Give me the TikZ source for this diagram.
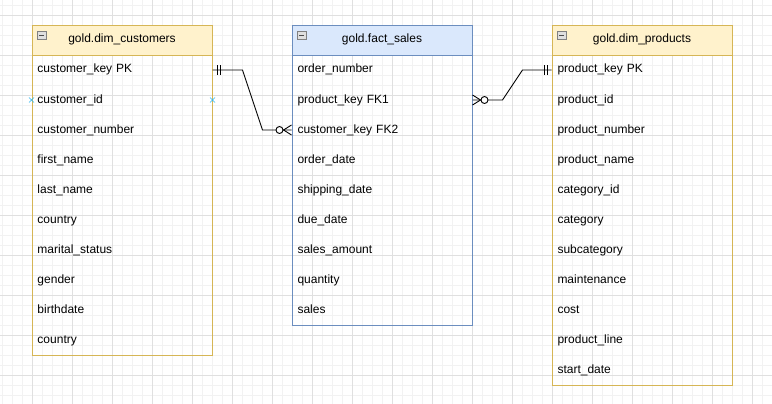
\documentclass[tikz,border=0pt]{standalone}
\usepackage{fontspec}
\setmainfont{Liberation Sans}
\usetikzlibrary{positioning}
\definecolor{dimline}{HTML}{D6B656}
\definecolor{dimfill}{HTML}{FFF2CC}
\definecolor{factline}{HTML}{6C8EBF}
\definecolor{factfill}{HTML}{DAE8FC}
\definecolor{gridminor}{HTML}{F2F2F2}
\definecolor{gridmajor}{HTML}{E0E0E0}
\definecolor{pointblue}{HTML}{29B6F2}
\tikzset{
	tablehead/.style={draw, minimum width=180pt, minimum height=30pt, inner sep=0pt, outer sep=0pt, anchor=north west, text height=9pt, text depth=3pt, font=\fontsize{12}{14}\selectfont},
	tablerow/.style={minimum width=180pt, minimum height=30pt, text width=169pt, inner xsep=6pt, inner ysep=0pt, outer sep=0pt, align=left, text height=9pt, text depth=3pt, font=\fontsize{12}{14}\selectfont},
	iconbox/.style={draw=gray, fill=gray!25, line width=0.6pt},
	relation/.style={draw=black, line width=0.9pt},
	hoverpoint/.style={draw=pointblue, line width=0.7pt}
}
\begin{document}
\begin{tikzpicture}[x=1pt,y=1pt]
	\useasboundingbox (0,0) rectangle (772,-404);
	\fill[white] (0,0) rectangle (772,-404);
	\begin{scope}[shift={(2,-5)}]
		\draw[gridminor, line width=0.6pt, step=10] (-2,-399) grid (770,5);
	\end{scope}
	\begin{scope}[shift={(32,-15)}]
		\draw[gridmajor, line width=0.6pt, step=40] (-32,-389) grid (740,15);
	\end{scope}

	% dim customers
	\node[tablehead, draw=dimline, fill=dimfill] (cust-0) at (32,-25) {gold.dim\_customers};
	\foreach \txt [count=\i] in {customer\_key PK, customer\_id, customer\_number, first\_name, last\_name, country, marital\_status, gender, birthdate, country}
	{
		\pgfmathtruncatemacro\prev{\i-1}
		\node[tablerow, below=0pt of cust-\prev] (cust-\i) {\txt};
	}
	\draw[dimline, line width=0.8pt] (cust-0.north west) rectangle (cust-10.south east);
	\draw[dimline, line width=0.8pt] (cust-0.south west) -- (cust-0.south east);

	% fact sales
	\node[tablehead, draw=factline, fill=factfill] (fact-0) at (292,-25) {gold.fact\_sales};
	\foreach \txt [count=\i] in {order\_number, product\_key FK1, customer\_key FK2, order\_date, shipping\_date, due\_date, sales\_amount, quantity, sales}
	{
		\pgfmathtruncatemacro\prev{\i-1}
		\node[tablerow, below=0pt of fact-\prev] (fact-\i) {\txt};
	}
	\draw[factline, line width=0.8pt] (fact-0.north west) rectangle (fact-9.south east);
	\draw[factline, line width=0.8pt] (fact-0.south west) -- (fact-0.south east);

	% dim products
	\node[tablehead, draw=dimline, fill=dimfill] (prod-0) at (552,-25) {gold.dim\_products};
	\foreach \txt [count=\i] in {product\_key PK, product\_id, product\_number, product\_name, category\_id, category, subcategory, maintenance, cost, product\_line, start\_date}
	{
		\pgfmathtruncatemacro\prev{\i-1}
		\node[tablerow, below=0pt of prod-\prev] (prod-\i) {\txt};
	}
	\draw[dimline, line width=0.8pt] (prod-0.north west) rectangle (prod-11.south east);
	\draw[dimline, line width=0.8pt] (prod-0.south west) -- (prod-0.south east);

	% collapse icons
	\foreach \t in {cust,fact,prod}
	{
		\draw[iconbox] ([shift={(5,-6)}]\t-0.north west) rectangle ++(9,-8);
		\draw[black!70, line width=0.7pt] ([shift={(7,-10)}]\t-0.north west) -- ++(5,0);
	}

	% customers -> sales
	\draw[relation] (cust-1.east) -- ++(30,0) -- ++(20,-60) -- (fact-3.west);
	\draw[relation] ([xshift=4.5pt]cust-1.east) ++(0,-5) -- ++(0,10);
	\draw[relation] ([xshift=8pt]cust-1.east) ++(0,-5) -- ++(0,10);
	\draw[relation] ([yshift=5pt]fact-3.west) -- ([xshift=-8pt]fact-3.west) -- ([yshift=-5pt]fact-3.west);
	\draw[relation, fill=white] ([xshift=-12pt]fact-3.west) circle (3.5pt);

	% products -> sales
	\draw[relation] (fact-2.east) -- ++(30,0) -- ++(20,30) -- (prod-1.west);
	\draw[relation] ([xshift=-7.5pt]prod-1.west) ++(0,-5) -- ++(0,10);
	\draw[relation] ([xshift=-4pt]prod-1.west) ++(0,-5) -- ++(0,10);
	\draw[relation] ([yshift=5pt]fact-2.east) -- ([xshift=8pt]fact-2.east) -- ([yshift=-5pt]fact-2.east);
	\draw[relation, fill=white] ([xshift=12pt]fact-2.east) circle (3.5pt);

	% connection points
	\foreach \p in {cust-2.west, cust-2.east}
		\draw[hoverpoint] (\p) ++(-2.5,-2.5) -- ++(5,5) ++(-5,0) -- ++(5,-5);
\end{tikzpicture}
\end{document}
